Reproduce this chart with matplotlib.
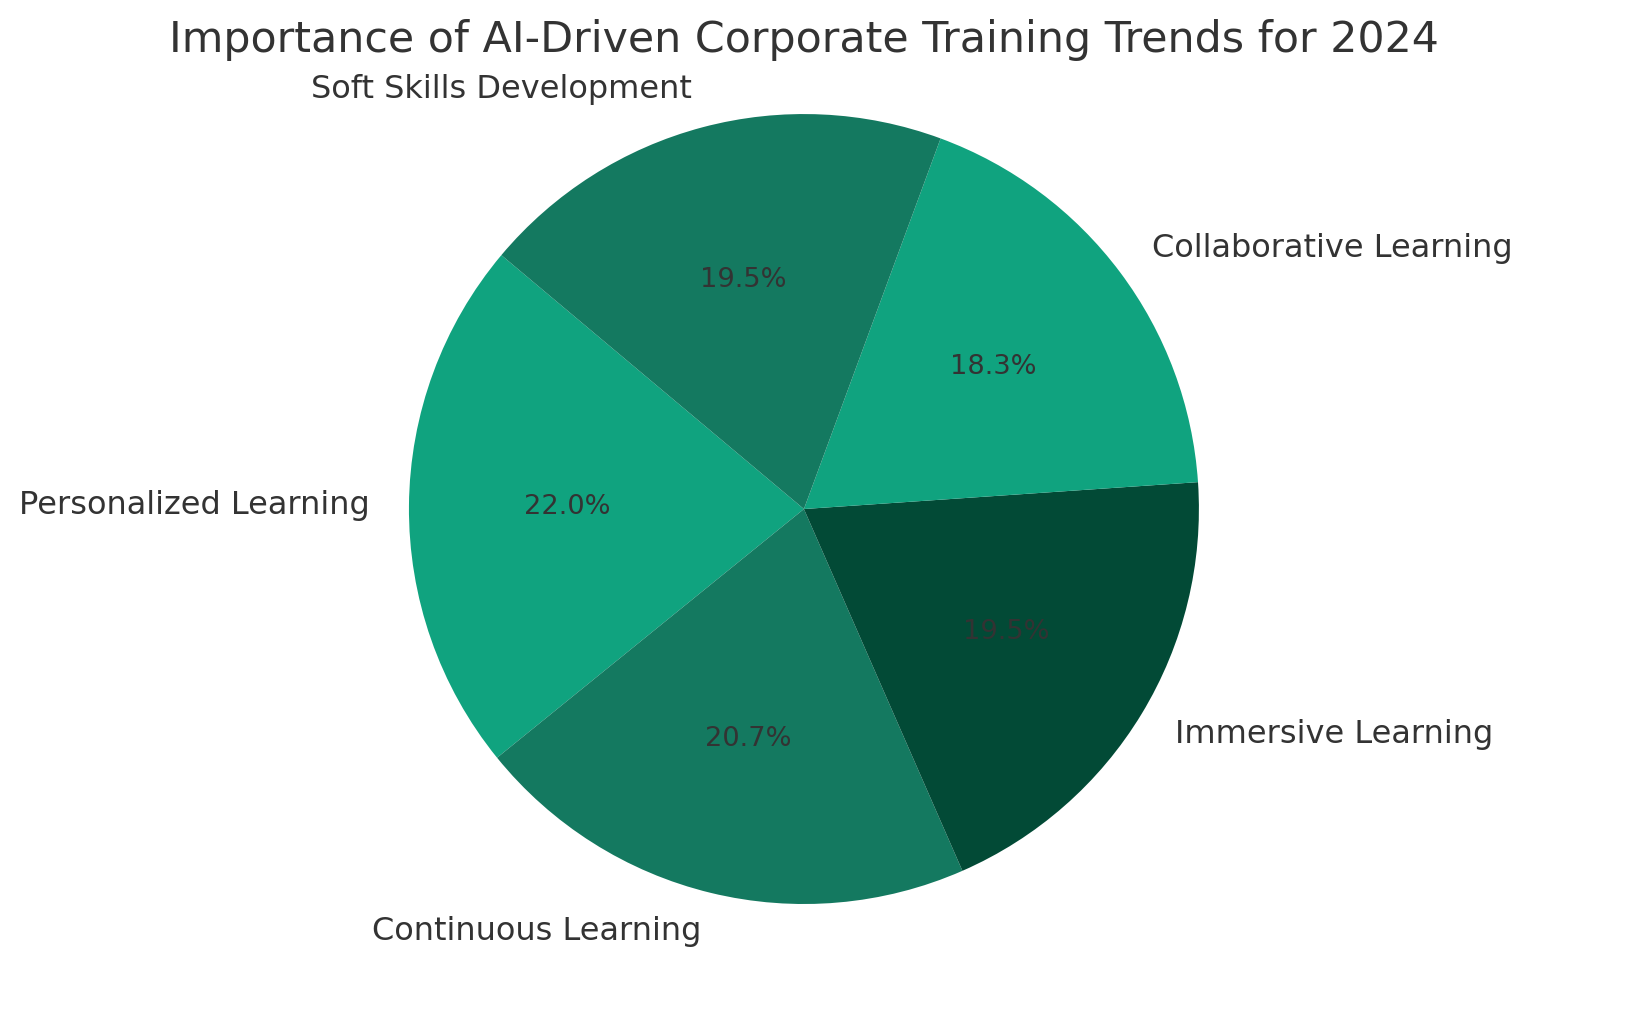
import matplotlib.pyplot as plt

trends = ['Personalized Learning', 'Continuous Learning', 'Immersive Learning',
          'Collaborative Learning', 'Soft Skills Development']
importance = [18, 17, 16, 15, 16]
colors = ['#10A37F', '#147960', '#024A36']

plt.rcParams['text.color'] = '#333333'

fig = plt.figure(figsize=(8.17, 5.07), dpi=200)
ax = fig.add_axes([0.2261, 0.0695, 0.5318, 0.857])

wedges, texts, autotexts = ax.pie(importance, labels=trends, colors=colors,
                                  autopct='%1.1f%%', startangle=140,
                                  textprops={'fontsize': 11.5, 'color': '#333333'})
for t in autotexts:
    t.set_fontsize(9.8)

ax.set_xlim(-1.1, 1.1)
ax.set_ylim(-1.1, 1.1)
ax.set_aspect('equal')
ax.set_title('Importance of AI-Driven Corporate Training Trends for 2024',
             fontsize=15.4, color='#333333', pad=8)

plt.savefig('out.png', dpi=200)
